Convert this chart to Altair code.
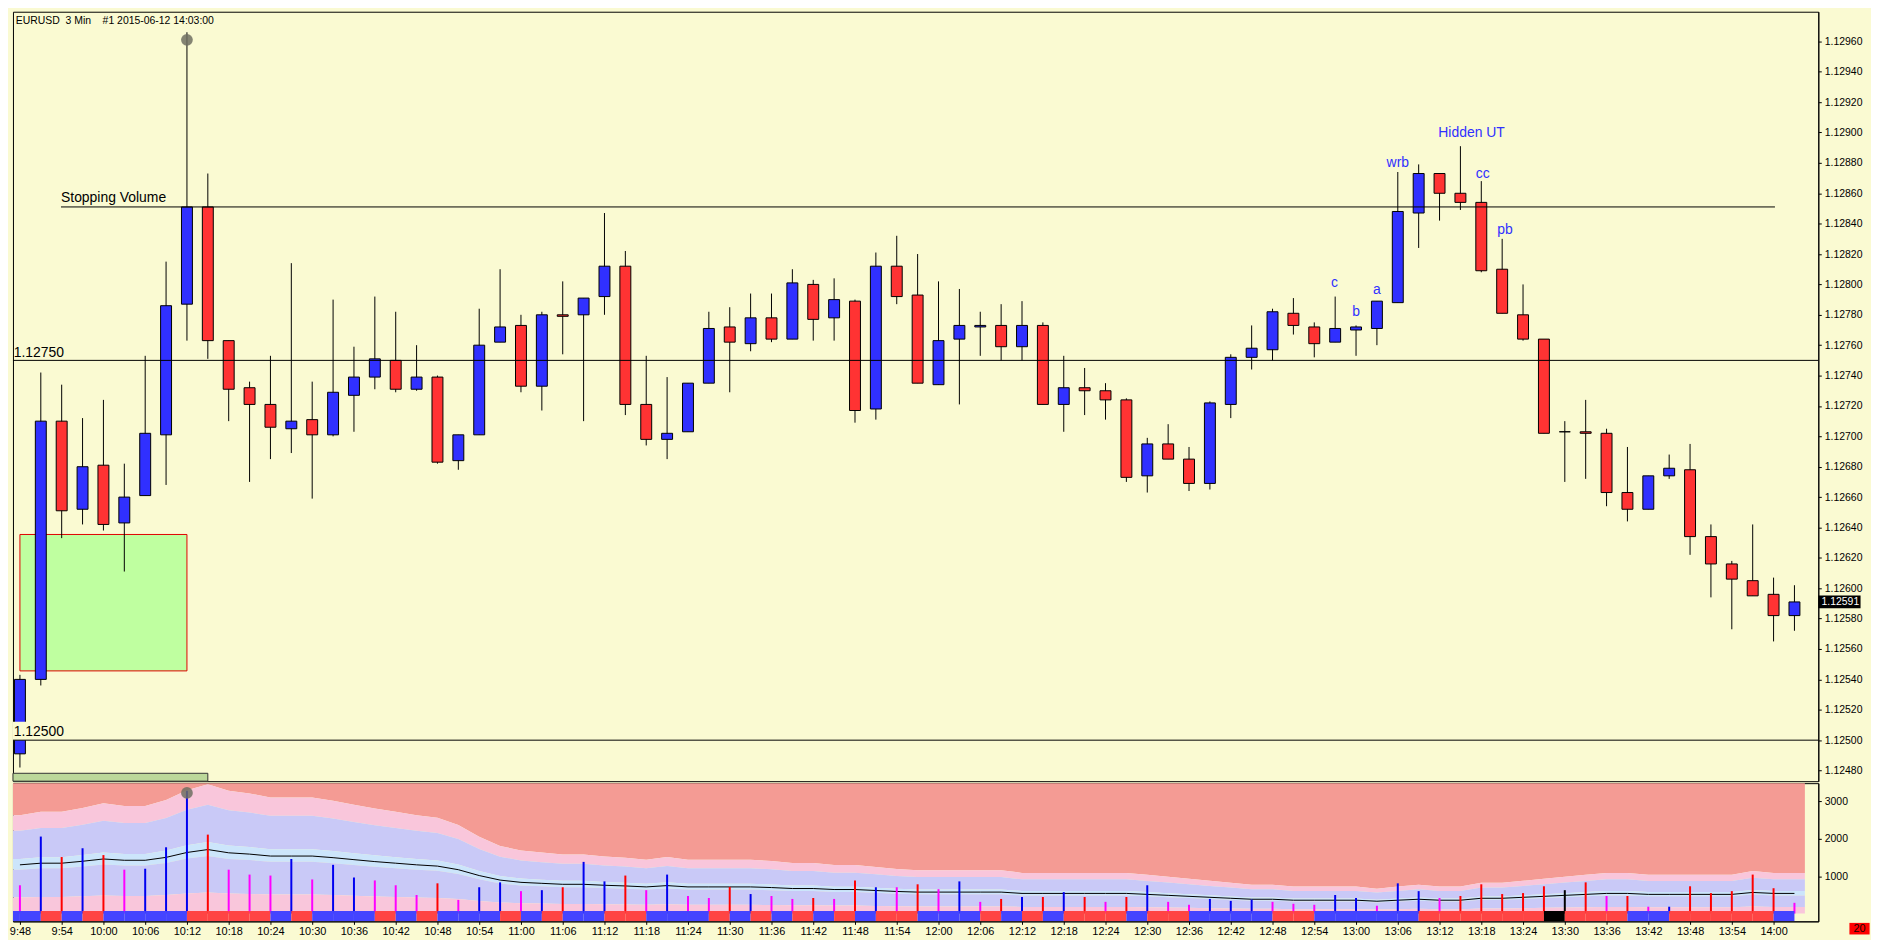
import altair as alt
import pandas as pd

# ---------------- data ----------------
start_minute = 588          # 9:48
bar_minutes = 3

open_ = [1.12491, 1.12540, 1.12710, 1.12652, 1.12681, 1.12643, 1.12661, 1.12701, 1.12787, 1.12851,
         1.12763, 1.12732, 1.12721, 1.12705, 1.12711, 1.12701, 1.12727, 1.12739, 1.12750, 1.12731,
         1.12739, 1.12684, 1.12701, 1.12762, 1.12773, 1.12733, 1.12780, 1.12780, 1.12792, 1.12812,
         1.12721, 1.12698, 1.12703, 1.12735, 1.12772, 1.12761, 1.12778, 1.12764, 1.12800, 1.12778,
         1.12789, 1.12718, 1.12812, 1.12793, 1.12734, 1.12764, 1.12772, 1.12773, 1.12759, 1.12773,
         1.12721, 1.12732, 1.12730, 1.12724, 1.12674, 1.12695, 1.12685, 1.12669, 1.12721, 1.12752,
         1.12757, 1.12781, 1.12772, 1.12762, 1.12770, 1.12771, 1.12788, 1.12847, 1.12873, 1.12860,
         1.12854, 1.12810, 1.12780, 1.12764, 1.12703, 1.12703, 1.12702, 1.12663, 1.12652, 1.12674,
         1.12678, 1.12634, 1.12616, 1.12605, 1.12596, 1.12582]
high = [1.12543, 1.12742, 1.12734, 1.12712, 1.12724, 1.12682, 1.12753, 1.12815, 1.12966, 1.12873,
        1.12763, 1.12736, 1.12753, 1.12814, 1.12736, 1.12790, 1.12759, 1.12792, 1.12782, 1.12760,
        1.12740, 1.12701, 1.12784, 1.12810, 1.12780, 1.12782, 1.12802, 1.12791, 1.12847, 1.12822,
        1.12753, 1.12739, 1.12735, 1.12782, 1.12785, 1.12794, 1.12794, 1.12810, 1.12803, 1.12804,
        1.12790, 1.12821, 1.12832, 1.12820, 1.12802, 1.12797, 1.12782, 1.12787, 1.12789, 1.12775,
        1.12753, 1.12745, 1.12735, 1.12725, 1.12699, 1.12708, 1.12693, 1.12723, 1.12754, 1.12773,
        1.12784, 1.12791, 1.12775, 1.12792, 1.12773, 1.12789, 1.12874, 1.12879, 1.12873, 1.12891,
        1.12868, 1.12830, 1.12800, 1.12764, 1.12710, 1.12724, 1.12705, 1.12693, 1.12674, 1.12688,
        1.12695, 1.12642, 1.12618, 1.12642, 1.12607, 1.12602]
low = [1.12482, 1.12536, 1.12633, 1.12642, 1.12638, 1.12611, 1.12661, 1.12668, 1.12763, 1.12751,
       1.12710, 1.12670, 1.12685, 1.12689, 1.12659, 1.12700, 1.12703, 1.12731, 1.12729, 1.12730,
       1.12682, 1.12678, 1.12701, 1.12762, 1.12729, 1.12717, 1.12754, 1.12710, 1.12780, 1.12714,
       1.12694, 1.12685, 1.12703, 1.12735, 1.12729, 1.12756, 1.12762, 1.12764, 1.12763, 1.12763,
       1.12709, 1.12711, 1.12787, 1.12735, 1.12734, 1.12721, 1.12753, 1.12750, 1.12750, 1.12721,
       1.12703, 1.12714, 1.12711, 1.12670, 1.12663, 1.12685, 1.12664, 1.12665, 1.12712, 1.12744,
       1.12750, 1.12767, 1.12752, 1.12762, 1.12753, 1.12760, 1.12788, 1.12824, 1.12842, 1.12849,
       1.12808, 1.12781, 1.12763, 1.12702, 1.12670, 1.12672, 1.12654, 1.12644, 1.12652, 1.12672,
       1.12622, 1.12594, 1.12573, 1.12595, 1.12565, 1.12572]
close = [1.12540, 1.12710, 1.12651, 1.12680, 1.12642, 1.12660, 1.12702, 1.12786, 1.12851, 1.12763,
         1.12731, 1.12721, 1.12706, 1.12710, 1.12701, 1.12729, 1.12739, 1.12751, 1.12731, 1.12739,
         1.12683, 1.12701, 1.12760, 1.12772, 1.12733, 1.12780, 1.12779, 1.12791, 1.12812, 1.12721,
         1.12698, 1.12702, 1.12735, 1.12771, 1.12762, 1.12778, 1.12764, 1.12801, 1.12777, 1.12790,
         1.12717, 1.12812, 1.12792, 1.12735, 1.12763, 1.12773, 1.12773, 1.12759, 1.12773, 1.12721,
         1.12732, 1.12730, 1.12724, 1.12673, 1.12695, 1.12685, 1.12669, 1.12722, 1.12752, 1.12758,
         1.12782, 1.12773, 1.12761, 1.12771, 1.12772, 1.12789, 1.12848, 1.12873, 1.12860, 1.12854,
         1.12809, 1.12781, 1.12764, 1.12702, 1.12703, 1.12702, 1.12663, 1.12652, 1.12674, 1.12679,
         1.12634, 1.12616, 1.12606, 1.12595, 1.12582, 1.12591]

volume = [757, 2061, 1513, 1748, 1565, 1174, 1200, 1774, 3287, 2113,
          1174, 1043, 1017, 1461, 913, 1304, 965, 887, 757, 496,
          809, 365, 704, 835, 600, 626, 704, 1383, 861, 1017,
          626, 1043, 470, 417, 713, 522, 470, 391, 417, 391,
          887, 704, 704, 783, 652, 861, 313, 391, 443, 443,
          574, 443, 313, 443, 757, 313, 235, 391, 339, 374,
          313, 261, 235, 496, 417, 209, 809, 600, 417, 470,
          783, 522, 548, 730, 626, 835, 470, 470, 183, 183,
          730, 548, 600, 1043, 678, 287]
volume_kind = ["m", "b", "r", "b", "r", "m", "b", "b", "b", "r",
               "m", "m", "m", "b", "m", "b", "b", "m", "m", "m",
               "r", "m", "b", "b", "m", "b", "r", "b", "b", "r",
               "m", "b", "m", "m", "r", "b", "m", "m", "r", "m",
               "r", "b", "m", "r", "m", "b", "m", "r", "b", "r",
               "b", "r", "m", "r", "b", "m", "m", "b", "b", "b",
               "m", "m", "m", "b", "b", "m", "b", "b", "m", "r",
               "r", "r", "r", "r", "k", "r", "m", "r", "m", "b",
               "r", "r", "r", "r", "r", "m"]
volume_avg = [1304, 1348, 1348, 1400, 1461, 1426, 1426, 1504, 1635, 1713,
              1626, 1591, 1539, 1539, 1539, 1496, 1443, 1391, 1348, 1304,
              1270, 1174, 1017, 896, 835, 809, 783, 783, 757, 739,
              713, 748, 713, 713, 713, 713, 696, 670, 670, 643,
              643, 617, 591, 574, 574, 574, 574, 574, 539, 539,
              539, 539, 539, 539, 513, 487, 461, 435, 409, 383,
              383, 357, 357, 357, 357, 330, 357, 383, 357, 357,
              409, 409, 435, 461, 487, 513, 539, 539, 513, 513,
              513, 513, 513, 565, 539, 539]
band_mult = [0.33, 0.9, 1.12, 1.7, 2.02]

price_ticks = [1.12480, 1.12500, 1.12520, 1.12540, 1.12560, 1.12580, 1.12600, 1.12620, 1.12640,
               1.12660, 1.12680, 1.12700, 1.12720, 1.12740, 1.12760, 1.12780, 1.12800, 1.12820,
               1.12840, 1.12860, 1.12880, 1.12900, 1.12920, 1.12940, 1.12960]
volume_ticks = [1000, 2000, 3000]
time_labels = ["9:48", "9:54", "10:00", "10:06", "10:12", "10:18", "10:24", "10:30", "10:36",
               "10:42", "10:48", "10:54", "11:00", "11:06", "11:12", "11:18", "11:24", "11:30",
               "11:36", "11:42", "11:48", "11:54", "12:00", "12:06", "12:12", "12:18", "12:24",
               "12:30", "12:36", "12:42", "12:48", "12:54", "13:00", "13:06", "13:12", "13:18",
               "13:24", "13:30", "13:36", "13:42", "13:48", "13:54", "14:00"]

title_text = "EURUSD\u00a0\u00a03 Min\u00a0\u00a0\u00a0\u00a0#1 2015-06-12 14:03:00"
level_prices = [1.12750, 1.12500]
level_labels = ["1.12750", "1.12500"]
stopping_price = 1.12851
stopping_from, stopping_to = 593.9, 840.2
zone_time = [588, 612]
zone_price = [1.125456, 1.126354]
ann_text = ["wrb", "Hidden UT", "cc", "pb", "c", "b", "a"]
ann_time = [786, 796.6, 798.2, 801.4, 776.9, 780, 783]
ann_price = [1.12880, 1.128995, 1.128724, 1.12836, 1.128012, 1.12782, 1.127966]
marker_time = 612
marker_price = 1.12961
marker_volume = 3230
last_price = 1.12591
corner_value = "20"

# ---------------- layout / styles ----------------
BG = "#FAFAD2"
BLUE = "#3030FF"
RED = "#FF3333"
W, HP, HV = 1816, 774, 139
X_DOM = [587, 846.43]
P_DOM = [1.12473, 1.129795]
V_DOM = [-209, 3490]
FONT = "Liberation Sans"

n = len(open_)
times = [start_minute + bar_minutes * i for i in range(n)]
direction = ["up" if c > o else ("down" if c < o else "flat") for o, c in zip(open_, close)]

candles = pd.DataFrame({"t": times, "o": open_, "h": high, "l": low, "c": close, "dir": direction})

XS = alt.Scale(domain=X_DOM, nice=False, zero=False, padding=0)
PS = alt.Scale(domain=P_DOM, nice=False, zero=False, padding=0)
VS = alt.Scale(domain=V_DOM, nice=False, zero=False, padding=0)

PAX = alt.Axis(orient="right", values=price_ticks, format=".5f", title=None, grid=False,
               tickSize=3, labelPadding=3, labelFont=FONT, labelFontSize=10.5, labelColor="black",
               domainColor="black", tickColor="black", labelOverlap=False)
VAX = alt.Axis(orient="right", values=volume_ticks, format="d", title=None, grid=False,
               tickSize=3, labelPadding=3, labelFont=FONT, labelFontSize=10.5, labelColor="black",
               domainColor="black", tickColor="black", labelOverlap=False)
label_array = "[" + ",".join("'%s'" % s for s in time_labels) + "]"
XAX = alt.Axis(values=[start_minute + 6 * k for k in range(len(time_labels))],
               labelExpr=label_array + "[round((datum.value-%d)/6)]" % start_minute,
               title=None, grid=False, tickSize=3, labelPadding=1, labelFont=FONT,
               labelFontSize=11, labelColor="black", domainColor="black", tickColor="black",
               labelFlush=False, labelOverlap=False)


def px(f):
    return alt.X(f, type="quantitative", scale=XS, axis=None)


def py(f):
    return alt.Y(f, type="quantitative", scale=PS, axis=PAX)


def vx(f):
    return alt.X(f, type="quantitative", scale=XS, axis=XAX)


def vy(f):
    return alt.Y(f, type="quantitative", scale=VS, axis=VAX)


dir_color = alt.Color("dir:N", scale=alt.Scale(domain=["up", "down", "flat"], range=[BLUE, RED, "#000000"]),
                      legend=None)

# ---------------- price pane ----------------
zone_df = pd.DataFrame({"x0": [zone_time[0]], "x1": [zone_time[1]], "p0": [zone_price[0]], "p1": [zone_price[1]]})
zone = alt.Chart(zone_df).mark_rect(fill="#BFFFA0", stroke="#E00000", strokeWidth=1).encode(
    x=px("x0"), x2="x1", y=py("p0"), y2="p1")

base_bar_df = pd.DataFrame({"x0": [X_DOM[0]], "x1": [615.0], "p0": [P_DOM[0]], "p1": [1.124782]})
base_bar = alt.Chart(base_bar_df).mark_rect(fill="#BCD89A", stroke="#333333", strokeWidth=1).encode(
    x=px("x0"), x2="x1", y=py("p0"), y2="p1")

wicks = alt.Chart(candles).mark_rule(color="black", strokeWidth=1).encode(
    x=px("t"), y=py("l"), y2="h")
bodies = alt.Chart(candles).mark_bar(size=11, stroke="black", strokeWidth=1).encode(
    x=px("t"), y=py("o"), y2="c", color=dir_color)

lab_bg_df = pd.DataFrame({"x0": [X_DOM[0]], "x1": [594.8], "p0": [level_prices[1]], "p1": [1.125122]})
lab_bg = alt.Chart(lab_bg_df).mark_rect(fill=BG).encode(x=px("x0"), x2="x1", y=py("p0"), y2="p1")

levels_df = pd.DataFrame({"p": level_prices, "x0": [X_DOM[0]] * 2, "x1": [X_DOM[1]] * 2,
                          "label": level_labels, "lp": [1.127524, 1.125026], "lx": [587.1, 587.1]})
levels = alt.Chart(levels_df).mark_rule(color="black", strokeWidth=1).encode(
    x=px("x0"), x2="x1", y=py("p"))
level_text = alt.Chart(levels_df).mark_text(align="left", baseline="alphabetic", font=FONT,
                                            fontSize=14, color="black").encode(
    x=px("lx"), y=py("lp"), text="label:N")

sv_df = pd.DataFrame({"x0": [stopping_from], "x1": [stopping_to], "p": [stopping_price],
                      "label": ["Stopping Volume"], "lp": [1.128542]})
sv_line = alt.Chart(sv_df).mark_rule(color="black", strokeWidth=1).encode(x=px("x0"), x2="x1", y=py("p"))
sv_text = alt.Chart(sv_df).mark_text(align="left", baseline="alphabetic", font=FONT, fontSize=14,
                                     color="black").encode(x=px("x0"), y=py("lp"), text="label:N")

ann_df = pd.DataFrame({"t": ann_time, "p": ann_price, "label": ann_text})
ann = alt.Chart(ann_df).mark_text(align="center", baseline="middle", font=FONT, fontSize=14,
                                  color="#3030FF").encode(x=px("t"), y=py("p"), text="label:N")

title_df = pd.DataFrame({"t": [587.4], "p": [1.129715], "label": [title_text]})
title = alt.Chart(title_df).mark_text(align="left", baseline="alphabetic", font=FONT, fontSize=10.5,
                                      color="black").encode(x=px("t"), y=py("p"), text="label:N")

mk_df = pd.DataFrame({"t": [marker_time], "p": [marker_price], "v": [marker_volume]})
marker_p = alt.Chart(mk_df).mark_circle(size=140, color="#6E6E62", opacity=0.85).encode(x=px("t"), y=py("p"))

lp_df = pd.DataFrame({"x0": [X_DOM[1]], "x1": [852.5], "p0": [last_price - 0.0000415],
                      "p1": [last_price + 0.0000415], "xm": [849.6], "p": [last_price],
                      "label": ["%.5f" % last_price]})
lp_box = alt.Chart(lp_df).mark_rect(fill="black").encode(x=px("x0"), x2="x1", y=py("p0"), y2="p1")
lp_text = alt.Chart(lp_df).mark_text(align="center", baseline="middle", font=FONT, fontSize=10.5,
                                     color="white").encode(x=px("xm"), y=py("p"), text="label:N")

price = alt.layer(zone, base_bar, wicks, bodies, lab_bg, levels, level_text, sv_line, sv_text,
                  ann, title, marker_p, lp_box, lp_text).properties(width=W, height=HP)

# ---------------- volume pane ----------------
bx = [X_DOM[0]] + times + [times[-1] + 1.5]
ba = [volume_avg[0]] + volume_avg + [volume_avg[-1]]
bands = pd.DataFrame({"t": bx, "avg": ba})
for k, m in enumerate(band_mult):
    bands["b%d" % k] = bands["avg"] * m
bands["zero"] = 0
bands["top"] = V_DOM[1]

band_specs = [("b4", "top", "#F49B94"), ("b3", "b4", "#F9C6DB"), ("b2", "b3", "#C9C9F7"),
              ("b1", "b2", "#CCE5FB"), ("b0", "b1", "#C9C9F7"), ("zero", "b0", "#F9C6DB")]
band_layers = [alt.Chart(bands).mark_area(color=col, opacity=1).encode(x=vx("t"), y=vy(lo), y2=hi)
               for lo, hi, col in band_specs]

vols = pd.DataFrame({"t": times, "v": volume, "kind": volume_kind, "zero": [0] * n,
                     "dir": direction, "t0": [t - bar_minutes for t in times],
                     "s0": [V_DOM[0]] * n, "s1": [70] * n})
avg_line = alt.Chart(pd.DataFrame({"t": times, "avg": volume_avg})).mark_line(
    color="black", strokeWidth=1).encode(x=vx("t"), y=vy("avg"))
vbars = alt.Chart(vols).mark_rule(strokeWidth=2).encode(
    x=vx("t"), y=vy("v"), y2="zero",
    stroke=alt.Stroke("kind:N", scale=alt.Scale(domain=["b", "r", "m", "k"],
                                                range=["#0000F0", "#FF0000", "#FF00FF", "#000000"]),
                      legend=None))
squares = alt.Chart(vols).mark_rect(clip=True).encode(
    x=vx("t0"), x2="t", y=vy("s0"), y2="s1",
    fill=alt.Fill("dir:N", scale=alt.Scale(domain=["up", "down", "flat"],
                                           range=["#4444FF", "#FF4444", "#000000"]), legend=None))
marker_v = alt.Chart(mk_df).mark_circle(size=140, color="#6E6E62", opacity=0.85).encode(x=vx("t"), y=vy("v"))

corner_df = pd.DataFrame({"x0": [850.9], "x1": [853.8], "v0": [-250], "v1": [-560], "xm": [852.35],
                          "vm": [-405], "label": [corner_value]})
corner_box = alt.Chart(corner_df).mark_rect(fill="#FF0000").encode(x=vx("x0"), x2="x1", y=vy("v0"), y2="v1")
corner_text = alt.Chart(corner_df).mark_text(align="center", baseline="middle", font=FONT, fontSize=11,
                                             color="#200000").encode(x=vx("xm"), y=vy("vm"), text="label:N")

volume_pane = alt.layer(*band_layers, avg_line, vbars, squares, marker_v, corner_box,
                        corner_text).resolve_scale(stroke="independent", fill="independent").properties(
    width=W, height=HV)

chart = alt.vconcat(price, volume_pane, spacing=0).properties(
    padding={"left": 0, "top": 0, "right": 0, "bottom": 0}, background=BG
).configure_view(stroke="black", strokeWidth=1)

chart.save("out.html", embed_options={"renderer": "svg", "actions": False})
